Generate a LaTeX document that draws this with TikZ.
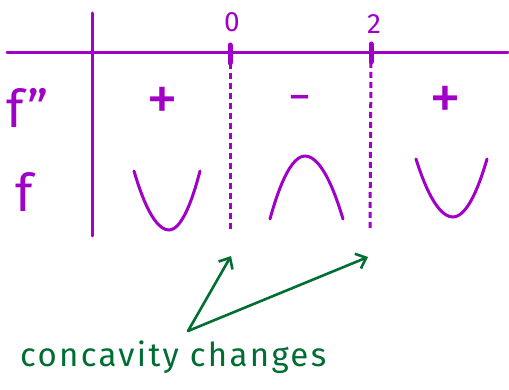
\documentclass[tikz,border=0pt]{standalone}
\usepackage{fontspec}
\setmainfont{Fira Sans}
\newfontfamily\spacedfont[LetterSpace=7]{Fira Sans}
\usetikzlibrary{arrows.meta}
\definecolor{pur}{RGB}{160,0,200}
\definecolor{grn}{RGB}{0,110,50}
\tikzset{
  pline/.style={draw=pur,line width=3pt,line cap=round},
  dline/.style={draw=pur,line width=3pt,dash pattern=on 6pt off 4pt},
  tickmark/.style={draw=pur,line width=5pt,line cap=round},
  plab/.style={text=pur,inner sep=0pt,font=\fontsize{52}{56}\selectfont},
  signlab/.style={text=pur,inner sep=0pt,font=\fontsize{64}{68}\selectfont},
  minuslab/.style={text=pur,inner sep=0pt,font=\fontsize{46}{50}\selectfont},
  numlab/.style={text=pur,inner sep=0pt,font=\fontsize{28}{32}\selectfont},
  garrow/.style={draw=grn,line width=2.6pt,line cap=round,line join=round,-{Straight Barb[length=9pt,width=16pt,line width=2.6pt]}},
  glab/.style={text=grn,inner sep=0pt,font=\spacedfont\fontsize{33}{36}\selectfont}
}
\begin{document}
\begin{tikzpicture}[x=1pt,y=-1pt]
\useasboundingbox (0,0) rectangle (509,390);
% axes
\coordinate (hl) at (7,53);
\coordinate (hr) at (508,53);
\coordinate (vt) at (92,13);
\coordinate (vb) at (92,236);
\draw[pline] (hl) -- (hr);
\draw[pline] (vt) -- (vb);
% ticks
\coordinate (t0a) at (230,45);
\coordinate (t0b) at (230,63);
\coordinate (t2a) at (371,44);
\coordinate (t2b) at (371,62);
\draw[tickmark] (t0a) -- (t0b);
\draw[tickmark] (t2a) -- (t2b);
\node[numlab] (n0) at (232,22) {0};
\node[numlab] (n2) at (374,24) {2};
% dashed
\coordinate (d0b) at (230,232);
\coordinate (d2b) at (370,228);
\draw[dline] (t0b) -- (d0b);
\draw[dline] (t2b) -- (d2b);
% row labels
\node[plab,anchor=base] (fpp) at (28,128) {f”};
\node[plab,anchor=base] (f) at (24,212) {f};
% signs
\node[signlab] (s1) at (162,104) {+};
\node[minuslab] (s2) at (300,104) {−};
\node[signlab] (s3) at (445,103) {+};
% curves
\draw[pline] (134,171) parabola bend (169,230) (200,171);
\draw[pline] (270,219) parabola bend (305,156) (343,219);
\draw[pline] (416,159) parabola bend (453,217) (487,159);
% arrows
\coordinate (src) at (188,331);
\coordinate (tip1) at (231,256);
\coordinate (tip2) at (368,257);
\draw[garrow] (src) -- (tip1);
\draw[garrow] (src) -- (tip2);
\node[glab,anchor=base west] (cc) at (20,366) {concavity changes};
\end{tikzpicture}
\end{document}
